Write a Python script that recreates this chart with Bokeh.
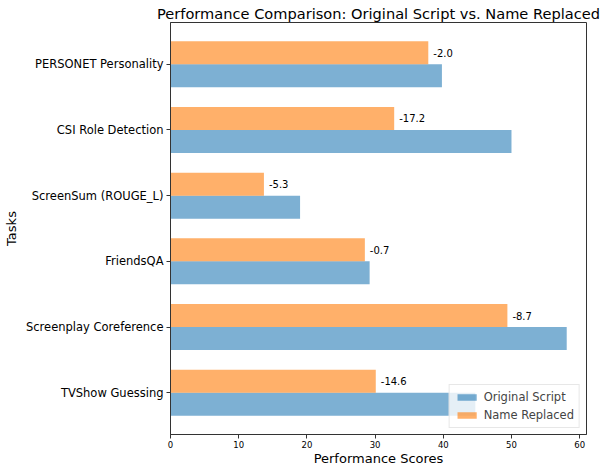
from bokeh.plotting import figure
from bokeh.models import ColumnDataSource, Range1d, FixedTicker, Legend, LegendItem
from bokeh.transform import dodge
from bokeh.core.properties import value
from bokeh.embed import file_html
from bokeh.resources import INLINE

# Data (top-to-bottom as displayed)
tasks = ["PERSONET Personality", "CSI Role Detection", "ScreenSum (ROUGE_L)",
         "FriendsQA", "Screenplay Coreference", "TVShow Guessing"]
original = [39.8, 50.0, 19.0, 29.2, 58.1, 44.7]
replaced = [37.8, 32.8, 13.7, 28.5, 49.4, 30.1]
x_ticks = [0, 10, 20, 30, 40, 50, 60]

n = len(tasks)
ypos = [n - 1 - i for i in range(n)]
labels = [f"{r - o:.1f}" for o, r in zip(original, replaced)]

src = ColumnDataSource(dict(y=ypos, task=tasks, original=original,
                            replaced=replaced, label=labels))

FONT = "DejaVu Sans"
p = figure(frame_width=416, frame_height=412, output_backend="svg", toolbar_location=None,
           x_range=Range1d(0, 61.0), y_range=Range1d(-0.635, n - 1 + 0.635),
           title="Performance Comparison: Original Script vs. Name Replaced",
           min_border_left=170, min_border_right=19, min_border_top=22,
           min_border_bottom=32)

bw = 0.35
r1 = p.hbar(y=dodge("y", -bw / 2), right="original", left=0, height=bw, source=src,
            fill_color="#1f77b4", fill_alpha=0.58, line_color=None)
r2 = p.hbar(y=dodge("y", bw / 2), right="replaced", left=0, height=bw, source=src,
            fill_color="#ff7f0e", fill_alpha=0.62, line_color=None)
p.text(x="replaced", y=dodge("y", bw / 2), text="label", source=src,
       x_offset=5, text_baseline="middle", text_align="left",
       text_font=value(FONT), text_font_size="10px", text_color="#000000")

p.title.text_font = FONT
p.title.text_font_size = "14.6px"
p.title.text_font_style = "normal"
p.title.text_color = "#000000"
p.title.align = "center"
p.title.standoff = 2

p.xaxis.ticker = FixedTicker(ticks=x_ticks)
p.yaxis.ticker = FixedTicker(ticks=ypos)
p.yaxis.major_label_overrides = {y: t for y, t in zip(ypos, tasks)}
p.xaxis.axis_label = "Performance Scores"
p.yaxis.axis_label = "Tasks"
for ax in (p.xaxis, p.yaxis):
    ax.axis_label_text_font = FONT
    ax.axis_label_text_font_size = "13px"
    ax.axis_label_text_font_style = "normal"
    ax.major_label_text_font = FONT
    ax.major_tick_in = 0
    ax.major_tick_out = 4
    ax.minor_tick_line_color = None
    ax.axis_line_color = "#333333"
    ax.major_tick_line_color = "#333333"
    ax.major_label_text_color = "#000000"
    ax.axis_label_text_color = "#000000"
p.xaxis.major_label_text_font_size = "8.5px"
p.yaxis.major_label_text_font_size = "11.5px"
p.xaxis.major_label_standoff = 2
p.xaxis.axis_label_standoff = 0
p.yaxis.major_label_standoff = 3
p.yaxis.axis_label_standoff = 4

p.xgrid.grid_line_color = None
p.ygrid.grid_line_color = None
p.outline_line_color = "#333333"
p.outline_line_width = 1

legend = Legend(items=[LegendItem(label="Original Script", renderers=[r1]),
                       LegendItem(label="Name Replaced", renderers=[r2])],
                location="bottom_right")
legend.label_text_font = FONT
legend.label_text_font_size = "11.5px"
legend.glyph_width = 24
legend.glyph_height = 8
legend.margin = 6
legend.padding = 5
legend.spacing = 4
legend.border_line_color = "#d0d0d0"
legend.background_fill_alpha = 0.8
p.add_layout(legend)

open("out.html", "w").write(file_html(p, INLINE))
